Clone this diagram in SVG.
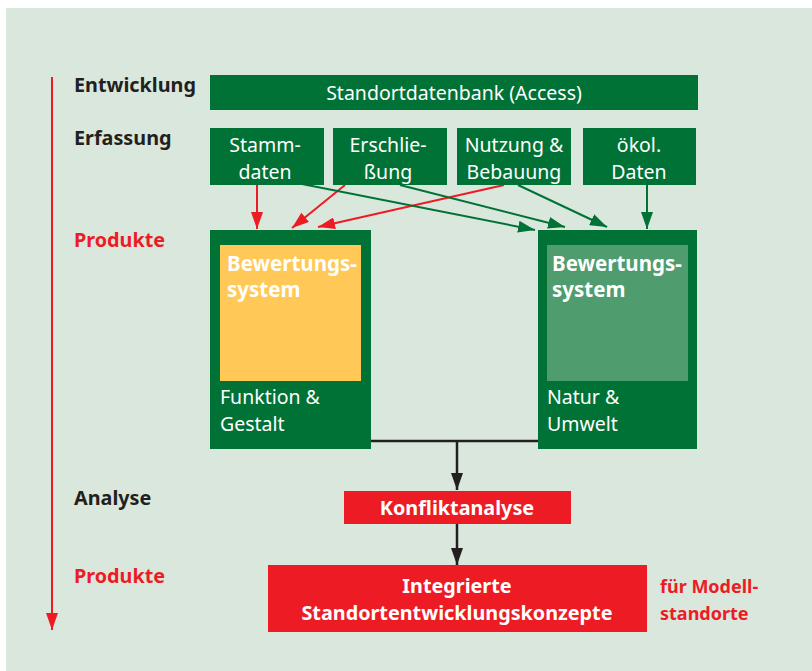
<svg xmlns="http://www.w3.org/2000/svg" width="812" height="671" viewBox="0 0 812 671">
<style>
.t{font-family:"Noto Sans","Open Sans","DejaVu Sans",sans-serif}
.lbl{font-size:19.8px;font-weight:bold;fill:#231f20}
.red{fill:#ed1c24}
.fm{font-size:18px}
.w{fill:#ffffff;font-size:19.5px}
.wb{fill:#ffffff;font-size:19.8px;font-weight:bold}
.bs{font-size:20.5px}
.g{fill:#007236}
.r{fill:#ed1c24}
.ar{stroke:#ed1c24;stroke-width:2;fill:none}
.ag{stroke:#007236;stroke-width:2;fill:none}
.ak{stroke:#231f20;stroke-width:2.5;fill:none}
</style>
<defs>
<marker id="mr" markerUnits="userSpaceOnUse" markerWidth="18" markerHeight="12" refX="17" refY="6" orient="auto"><path d="M0,0 L17,6 L0,12 Z" fill="#ed1c24"/></marker>
<marker id="mg" markerUnits="userSpaceOnUse" markerWidth="18" markerHeight="12" refX="17" refY="6" orient="auto"><path d="M0,0 L17,6 L0,12 Z" fill="#007236"/></marker>
<marker id="mk" markerUnits="userSpaceOnUse" markerWidth="18" markerHeight="12" refX="17" refY="6" orient="auto"><path d="M0,0 L17,6 L0,12 Z" fill="#231f20"/></marker>
</defs>
<rect x="6" y="8" width="806" height="663" fill="#dae7dd"/>

<g id="timeline">
<line x1="52" y1="77" x2="52" y2="630" stroke="#ed1c24" stroke-width="2" marker-end="url(#mr)"/>
<text class="t lbl" x="74" y="92">Entwicklung</text>
<text class="t lbl" x="74" y="145">Erfassung</text>
<text class="t lbl red" x="74" y="247">Produkte</text>
<text class="t lbl" x="74" y="505">Analyse</text>
<text class="t lbl red" x="74" y="583">Produkte</text>
</g>

<g id="connectors">
<line class="ar" x1="257" y1="185" x2="257" y2="229" marker-end="url(#mr)"/>
<line class="ar" x1="345" y1="185" x2="292" y2="228" marker-end="url(#mr)"/>
<line class="ar" x1="504" y1="185" x2="318" y2="227" marker-end="url(#mr)"/>
<line class="ag" x1="302" y1="184" x2="535" y2="230" marker-end="url(#mg)"/>
<line class="ag" x1="400" y1="185" x2="565" y2="227" marker-end="url(#mg)"/>
<line class="ag" x1="518" y1="185" x2="607" y2="227" marker-end="url(#mg)"/>
<line class="ag" x1="647" y1="185" x2="647" y2="229" marker-end="url(#mg)"/>
<line class="ak" x1="370" y1="441" x2="538" y2="441"/>
<line class="ak" x1="457" y1="441" x2="457" y2="490" marker-end="url(#mk)"/>
<line class="ak" x1="457" y1="524" x2="457" y2="565" marker-end="url(#mk)"/>
</g>

<g id="standortdatenbank">
<rect class="g" x="210" y="75" width="488" height="35"/>
<text class="t w" x="454" y="100" text-anchor="middle">Standortdatenbank (Access)</text>
</g>
<g id="stammdaten">
<rect class="g" x="210" y="128" width="114" height="57"/>
<text class="t w" x="265" y="152" text-anchor="middle">Stamm-</text>
<text class="t w" x="265" y="179" text-anchor="middle">daten</text>
</g>
<g id="erschliessung">
<rect class="g" x="333" y="128" width="114" height="57"/>
<text class="t w" x="388" y="152" text-anchor="middle">Erschlie-</text>
<text class="t w" x="388" y="179" text-anchor="middle">ßung</text>
</g>
<g id="nutzung">
<rect class="g" x="457" y="128" width="114" height="57"/>
<text class="t w" x="514" y="152" text-anchor="middle">Nutzung &amp;</text>
<text class="t w" x="514" y="179" text-anchor="middle">Bebauung</text>
</g>
<g id="oekol">
<rect class="g" x="583" y="128" width="113" height="57"/>
<text class="t w" x="639" y="152" text-anchor="middle">ökol.</text>
<text class="t w" x="639" y="179" text-anchor="middle">Daten</text>
</g>

<g id="funktion">
<rect class="g" x="210" y="230" width="161" height="219"/>
<rect x="220" y="245" width="141" height="136" fill="#ffc857"/>
<text class="t wb bs" x="227" y="271">Bewertungs-</text>
<text class="t wb bs" x="227" y="297">system</text>
<text class="t w" x="220" y="404">Funktion &amp;</text>
<text class="t w" x="220" y="431">Gestalt</text>
</g>
<g id="natur">
<rect class="g" x="538" y="230" width="159" height="219"/>
<rect x="547" y="245" width="141" height="136" fill="#4f9c6e"/>
<text class="t wb bs" x="552" y="271">Bewertungs-</text>
<text class="t wb bs" x="552" y="297">system</text>
<text class="t w" x="547" y="404">Natur &amp;</text>
<text class="t w" x="547" y="431">Umwelt</text>
</g>

<g id="konfliktanalyse">
<rect class="r" x="344" y="491" width="227" height="33"/>
<text class="t wb" x="457" y="515" text-anchor="middle">Konfliktanalyse</text>
</g>
<g id="konzepte">
<rect class="r" x="268" y="565" width="379" height="67"/>
<text class="t wb" x="457" y="593" text-anchor="middle">Integrierte</text>
<text class="t wb" x="457" y="620" text-anchor="middle">Standortentwicklungskonzepte</text>
</g>
<g id="modellstandorte">
<text class="t lbl red fm" x="660" y="593">für Modell-</text>
<text class="t lbl red fm" x="660" y="620">standorte</text>
</g>
</svg>
